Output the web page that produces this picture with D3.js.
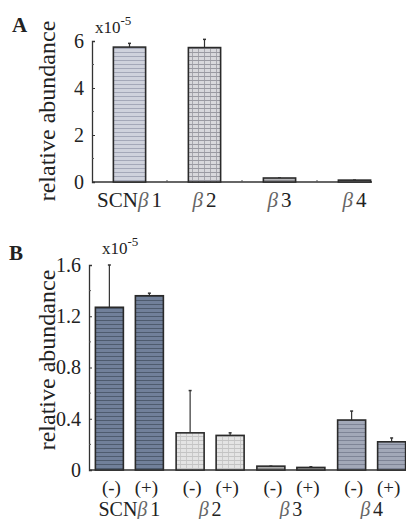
<!DOCTYPE html>
<html><head><meta charset="utf-8">
<script src="https://cdn.jsdelivr.net/npm/d3@7"></script>
<style>body{margin:0;background:#fff}svg{display:block}</style>
</head><body><svg id="c" width="406" height="519" font-family="Liberation Serif, Times New Roman, serif" fill="#222"></svg>
<script>
const genes = ["SCN\u03b21", "\u03b22", "\u03b23", "\u03b24"];
const valuesA = [5.74, 5.72, 0.17, 0.08];
const errorsA = [0.16, 0.35, 0, 0];
const conditions = ["(-)", "(+)"];
const valuesBMinus = [1.27, 0.29, 0.03, 0.39];
const valuesBPlus = [1.36, 0.27, 0.02, 0.22];
const errorsBMinus = [0.33, 0.33, 0, 0.07];
const errorsBPlus = [0.02, 0.02, 0.005, 0.03];
const ticksA = [0, 2, 4, 6];
const ticksB = [0, 0.4, 0.8, 1.2, 1.6];

const FONT = "Liberation Serif, Times New Roman, serif";
const svg = d3.select("#c");
const defs = svg.append("defs");
function stripes(id, bg, line, grid) {
  const p = defs.append("pattern").attr("id", id).attr("patternUnits", "userSpaceOnUse").attr("width", 6).attr("height", 4);
  p.append("rect").attr("width", 6).attr("height", 4).attr("fill", bg);
  p.append("line").attr("x1", 0).attr("x2", 6).attr("y1", 0.5).attr("y2", 0.5).attr("stroke", line).attr("stroke-width", 1);
  if (grid) p.append("line").attr("x1", 0.5).attr("x2", 0.5).attr("y1", 0).attr("y2", 4).attr("stroke", line).attr("stroke-width", 0.8);
}
stripes("pA1", "#cfd2dc", "#a4a8b8", false);
stripes("pA2", "#d8d8dc", "#9a9aa2", true);
stripes("pA3", "#b4b4b8", "#8c8c90", false);
stripes("pA4", "#a8a8ac", "#808084", false);
stripes("pB1", "#71809a", "#4e5b6e", false);
stripes("pB2", "#e4e4e4", "#c4c4c4", true);
stripes("pB3", "#acacac", "#8a8a8a", false);
stripes("pB4", "#a2a8b8", "#7e8496", false);
const fillsA = ["url(#pA1)", "url(#pA2)", "url(#pA3)", "url(#pA4)"];
const fillsB = ["url(#pB1)", "url(#pB2)", "url(#pB3)", "url(#pB4)"];

function txt(sel) { return sel.attr("font-family", FONT).attr("fill", "#222"); }

function yAxis(g, y, ticks, minor, fmt) {
  const ax = d3.axisLeft(y).tickValues(ticks).tickSize(-3).tickPadding(8).tickFormat(fmt);
  g.call(ax);
  g.attr("font-family", FONT).attr("font-size", 20);
  g.select(".domain").attr("stroke", "#333").attr("stroke-width", 1.3);
  g.selectAll(".tick line").attr("stroke", "#333");
  g.selectAll(".tick text").call(txt).attr("font-size", 20);
  g.selectAll(".minor").data(minor).enter().append("line").attr("class", "minor")
    .attr("x1", 0).attr("x2", 2).attr("y1", d => y(d)).attr("y2", d => y(d)).attr("stroke", "#555");
}

// Panel A
const xA = d3.scaleBand().domain(genes).range([92, 392]).paddingInner(0.57).paddingOuter(0.285);
const yA = d3.scaleLinear().domain([0, 6]).range([182, 41]);
const gA = svg.append("g");
gA.append("g").attr("transform", "translate(92,0)").call(g => yAxis(g, yA, ticksA, [1, 3, 5], d3.format("d")));
gA.append("line").attr("x1", 92).attr("x2", 372).attr("y1", yA(0)).attr("y2", yA(0)).attr("stroke", "#333").attr("stroke-width", 1.5);
gA.selectAll(".xm").data(genes.slice(1)).enter().append("line")
  .attr("x1", d => xA(d) - xA.step() * 0.285).attr("x2", d => xA(d) - xA.step() * 0.285)
  .attr("y1", yA(0)).attr("y2", yA(0) - 2).attr("stroke", "#555");
gA.selectAll(".err").data(genes).enter().append("line")
  .attr("x1", d => xA(d) + xA.bandwidth() / 2).attr("x2", d => xA(d) + xA.bandwidth() / 2)
  .attr("y1", (d, i) => yA(valuesA[i])).attr("y2", (d, i) => yA(valuesA[i] + errorsA[i]))
  .attr("stroke", "#333").attr("stroke-width", 1.2);
gA.selectAll(".cap").data(genes).enter().append("line")
  .attr("x1", d => xA(d) + xA.bandwidth() / 2 - 1.5).attr("x2", d => xA(d) + xA.bandwidth() / 2 + 1.5)
  .attr("y1", (d, i) => yA(valuesA[i] + errorsA[i])).attr("y2", (d, i) => yA(valuesA[i] + errorsA[i]))
  .attr("stroke", "#333").attr("stroke-width", 1.5);
gA.selectAll(".bar").data(genes).enter().append("rect")
  .attr("x", d => xA(d)).attr("width", xA.bandwidth())
  .attr("y", (d, i) => yA(valuesA[i])).attr("height", (d, i) => yA(0) - yA(valuesA[i]))
  .attr("fill", (d, i) => fillsA[i]).attr("stroke", "#2a2a2a").attr("stroke-width", 1.6);
function geneLabel(sel, d) {
  const m = d.match(/^(.*?)(\u03b2)(\d)$/);
  if (m[1]) sel.append("tspan").text(m[1]);
  sel.append("tspan").attr("font-style", "italic").attr("fill", "#666").text(m[2]);
  sel.append("tspan").attr("dx", 3).text(m[3]);
}
gA.selectAll(".xl").data(genes).enter().append("text").call(txt)
  .attr("x", d => xA(d) + xA.bandwidth() / 2).attr("y", 207).attr("text-anchor", "middle").attr("font-size", 21)
  .each(function (d) { geneLabel(d3.select(this), d); });

svg.append("text").call(txt).attr("x", 12).attr("y", 32).attr("font-size", 21).attr("font-weight", "bold").text("A");
const eA = svg.append("text").call(txt).attr("x", 95).attr("y", 33).attr("font-size", 17);
eA.append("tspan").text("x10");
eA.append("tspan").attr("dy", -8).attr("font-size", 13).text("-5");
svg.append("text").call(txt).attr("transform", "translate(55,111) rotate(-90)").attr("text-anchor", "middle").attr("font-size", 24).text("relative abundance");

// Panel B
const xB = d3.scaleBand().domain(genes).range([89, 412]).paddingInner(0).paddingOuter(0);
const xSub = d3.scaleBand().domain(conditions).range([-34, 34]).paddingInner(0.3).paddingOuter(0);
const yB = d3.scaleLinear().domain([0, 1.6]).range([470, 265]);
const gB = svg.append("g");
gB.append("g").attr("transform", "translate(89,0)").call(g => yAxis(g, yB, ticksB, [0.2, 0.6, 1.0, 1.4], d => d === 0 ? "0" : d3.format(".1f")(d)));
gB.append("line").attr("x1", 89).attr("x2", 406).attr("y1", yB(0)).attr("y2", yB(0)).attr("stroke", "#333").attr("stroke-width", 1.5);
const dataB = [];
genes.forEach((g, i) => {
  dataB.push({ g, c: "(-)", v: valuesBMinus[i], e: errorsBMinus[i], f: fillsB[i] });
  dataB.push({ g, c: "(+)", v: valuesBPlus[i], e: errorsBPlus[i], f: fillsB[i] });
});
const cx = d => xB(d.g) + xB.bandwidth() / 2 + xSub(d.c) + xSub.bandwidth() / 2;
gB.selectAll(".err").data(dataB).enter().append("line")
  .attr("x1", cx).attr("x2", cx).attr("y1", d => yB(d.v)).attr("y2", d => yB(d.v + d.e))
  .attr("stroke", "#333").attr("stroke-width", 1.2);
gB.selectAll(".cap").data(dataB).enter().append("line")
  .attr("x1", d => cx(d) - 1.5).attr("x2", d => cx(d) + 1.5).attr("y1", d => yB(d.v + d.e)).attr("y2", d => yB(d.v + d.e))
  .attr("stroke", "#333").attr("stroke-width", 1.5);
gB.selectAll(".bar").data(dataB).enter().append("rect")
  .attr("x", d => xB(d.g) + xB.bandwidth() / 2 + xSub(d.c)).attr("width", xSub.bandwidth())
  .attr("y", d => yB(d.v)).attr("height", d => yB(0) - yB(d.v))
  .attr("fill", d => d.f).attr("stroke", "#2a2a2a").attr("stroke-width", 1.6);
gB.selectAll(".cl").data(dataB).enter().append("text").call(txt)
  .attr("x", d => cx(d) + (d.c === "(-)" ? 2 : -3)).attr("y", 494).attr("text-anchor", "middle").attr("font-size", 19).text(d => d.c);
gB.selectAll(".xl").data(genes).enter().append("text").call(txt)
  .attr("x", d => xB(d) + xB.bandwidth() / 2).attr("y", 516).attr("text-anchor", "middle").attr("font-size", 20)
  .each(function (d) { geneLabel(d3.select(this), d); });

svg.append("text").call(txt).attr("x", 9).attr("y", 260).attr("font-size", 21).attr("font-weight", "bold").text("B");
const eB = svg.append("text").call(txt).attr("x", 102).attr("y", 254).attr("font-size", 17);
eB.append("tspan").text("x10");
eB.append("tspan").attr("dy", -8).attr("font-size", 13).text("-5");
svg.append("text").call(txt).attr("transform", "translate(55,360) rotate(-90)").attr("text-anchor", "middle").attr("font-size", 24).text("relative abundance");
</script></body></html>
